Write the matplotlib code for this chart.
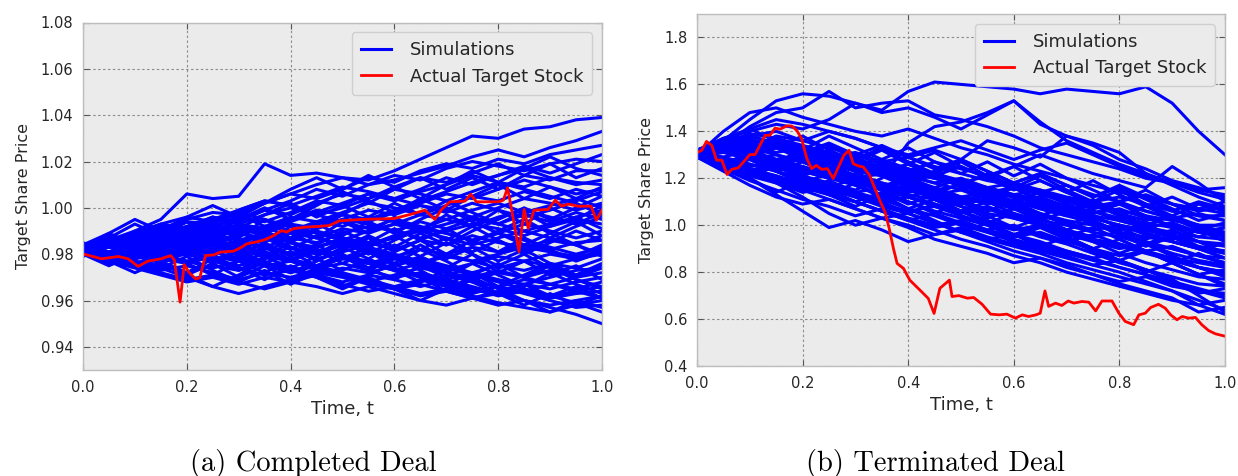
import numpy as np
import matplotlib
matplotlib.use("Agg")
import matplotlib.pyplot as plt

# ---------------- data ----------------
t_grid = [0.00, 0.05, 0.10, 0.15, 0.20, 0.25, 0.30, 0.35, 0.40, 0.45, 0.50,
          0.55, 0.60, 0.65, 0.70, 0.75, 0.80, 0.85, 0.90, 0.95, 1.00]

sims_completed = [
    [0.983, 0.984, 0.988, 0.991, 0.995, 0.998, 0.997, 1.002, 1.006, 1.010, 1.013, 1.012, 1.016, 1.021, 1.026, 1.031, 1.030, 1.034, 1.035, 1.038, 1.039],
    [0.982, 0.986, 0.990, 0.995, 1.006, 1.004, 1.005, 1.019, 1.014, 1.015, 1.013, 1.010, 1.012, 1.015, 1.018, 1.022, 1.025, 1.022, 1.026, 1.029, 1.033],
    [0.984, 0.987, 0.985, 0.990, 0.994, 0.993, 0.998, 1.002, 1.006, 1.004, 1.008, 1.013, 1.011, 1.016, 1.019, 1.017, 1.021, 1.019, 1.023, 1.025, 1.027],
    [0.981, 0.983, 0.987, 0.986, 0.991, 0.996, 0.994, 0.999, 1.003, 1.008, 1.005, 1.010, 1.014, 1.012, 1.017, 1.020, 1.018, 1.016, 1.019, 1.021, 1.020],
    [0.982, 0.985, 0.983, 0.988, 0.992, 0.990, 0.995, 0.999, 0.997, 1.002, 1.006, 1.004, 1.009, 1.013, 1.011, 1.015, 1.019, 1.014, 1.012, 1.016, 1.016],
    [0.983, 0.981, 0.985, 0.989, 0.987, 0.992, 0.996, 0.994, 0.998, 1.003, 1.001, 1.006, 1.004, 1.008, 1.013, 1.010, 1.014, 1.017, 1.013, 1.010, 1.012],
    [0.981, 0.984, 0.988, 0.986, 0.990, 0.994, 0.999, 1.003, 1.001, 0.997, 1.000, 1.004, 1.008, 1.006, 1.003, 1.007, 1.011, 1.009, 1.013, 1.011, 1.010],
    [0.982, 0.980, 0.984, 0.987, 0.985, 0.989, 0.993, 0.991, 0.995, 0.999, 0.997, 0.994, 0.998, 1.002, 1.006, 1.004, 1.008, 1.012, 1.009, 1.006, 1.008],
    [0.983, 0.986, 0.984, 0.982, 0.986, 0.990, 0.988, 0.992, 0.996, 0.994, 0.998, 1.002, 1.000, 0.997, 1.001, 1.005, 1.003, 1.007, 1.004, 1.008, 1.005],
    [0.981, 0.983, 0.981, 0.985, 0.983, 0.987, 0.991, 0.989, 0.993, 0.991, 0.995, 0.999, 0.997, 1.001, 0.999, 0.996, 1.000, 1.004, 1.002, 0.999, 1.002],
    [0.982, 0.984, 0.987, 0.985, 0.989, 0.992, 0.990, 0.986, 0.990, 0.994, 0.992, 0.996, 0.994, 0.991, 0.995, 0.999, 1.002, 0.998, 1.001, 1.004, 1.000],
    [0.983, 0.981, 0.979, 0.983, 0.986, 0.984, 0.988, 0.992, 0.990, 0.987, 0.991, 0.989, 0.993, 0.997, 0.995, 0.992, 0.996, 0.999, 0.996, 0.993, 0.998],
    [0.982, 0.985, 0.983, 0.987, 0.985, 0.982, 0.986, 0.989, 0.987, 0.991, 0.995, 0.993, 0.990, 0.994, 0.991, 0.995, 0.993, 0.997, 0.994, 0.998, 0.995],
    [0.981, 0.979, 0.982, 0.980, 0.984, 0.988, 0.986, 0.983, 0.987, 0.985, 0.989, 0.992, 0.990, 0.987, 0.990, 0.993, 0.991, 0.988, 0.992, 0.995, 0.993],
    [0.983, 0.985, 0.982, 0.979, 0.983, 0.981, 0.985, 0.988, 0.986, 0.990, 0.987, 0.984, 0.988, 0.991, 0.989, 0.986, 0.989, 0.993, 0.990, 0.987, 0.990],
    [0.982, 0.980, 0.983, 0.986, 0.984, 0.981, 0.978, 0.982, 0.985, 0.983, 0.987, 0.985, 0.982, 0.986, 0.984, 0.988, 0.985, 0.983, 0.986, 0.984, 0.988],
    [0.981, 0.983, 0.980, 0.978, 0.981, 0.984, 0.982, 0.979, 0.983, 0.980, 0.984, 0.982, 0.979, 0.976, 0.980, 0.983, 0.981, 0.984, 0.982, 0.985, 0.986],
    [0.983, 0.981, 0.978, 0.980, 0.977, 0.980, 0.983, 0.981, 0.978, 0.981, 0.979, 0.976, 0.979, 0.982, 0.980, 0.977, 0.980, 0.983, 0.981, 0.979, 0.984],
    [0.982, 0.979, 0.981, 0.978, 0.976, 0.979, 0.977, 0.980, 0.978, 0.975, 0.978, 0.981, 0.979, 0.976, 0.973, 0.976, 0.979, 0.977, 0.980, 0.978, 0.982],
    [0.981, 0.978, 0.976, 0.979, 0.977, 0.974, 0.977, 0.975, 0.972, 0.975, 0.978, 0.976, 0.973, 0.976, 0.979, 0.977, 0.974, 0.977, 0.975, 0.978, 0.980],
    [0.983, 0.980, 0.977, 0.975, 0.972, 0.975, 0.973, 0.976, 0.974, 0.971, 0.974, 0.972, 0.975, 0.978, 0.975, 0.972, 0.975, 0.973, 0.976, 0.974, 0.978],
    [0.982, 0.979, 0.976, 0.973, 0.975, 0.972, 0.969, 0.972, 0.970, 0.973, 0.971, 0.968, 0.971, 0.974, 0.972, 0.969, 0.972, 0.970, 0.973, 0.971, 0.976],
    [0.981, 0.977, 0.974, 0.971, 0.968, 0.970, 0.967, 0.970, 0.968, 0.971, 0.968, 0.971, 0.969, 0.966, 0.969, 0.972, 0.969, 0.967, 0.970, 0.973, 0.974],
    [0.983, 0.980, 0.976, 0.974, 0.970, 0.966, 0.963, 0.966, 0.969, 0.972, 0.970, 0.967, 0.965, 0.968, 0.971, 0.968, 0.966, 0.969, 0.967, 0.970, 0.972],
    [0.982, 0.978, 0.975, 0.972, 0.969, 0.971, 0.968, 0.965, 0.968, 0.966, 0.963, 0.966, 0.963, 0.960, 0.958, 0.961, 0.964, 0.967, 0.965, 0.968, 0.970],
    [0.981, 0.984, 0.981, 0.978, 0.980, 0.977, 0.979, 0.976, 0.973, 0.975, 0.972, 0.969, 0.966, 0.969, 0.966, 0.963, 0.966, 0.964, 0.967, 0.965, 0.968],
    [0.983, 0.985, 0.988, 0.986, 0.983, 0.985, 0.982, 0.979, 0.977, 0.974, 0.976, 0.973, 0.970, 0.972, 0.969, 0.966, 0.963, 0.965, 0.962, 0.964, 0.966],
    [0.982, 0.986, 0.989, 0.992, 0.990, 0.993, 0.991, 0.988, 0.985, 0.982, 0.979, 0.977, 0.974, 0.971, 0.968, 0.965, 0.962, 0.964, 0.961, 0.963, 0.964],
    [0.984, 0.987, 0.985, 0.982, 0.984, 0.981, 0.978, 0.975, 0.977, 0.974, 0.971, 0.968, 0.965, 0.967, 0.964, 0.961, 0.963, 0.960, 0.958, 0.960, 0.962],
    [0.981, 0.978, 0.980, 0.983, 0.980, 0.977, 0.974, 0.971, 0.973, 0.970, 0.967, 0.964, 0.966, 0.963, 0.965, 0.962, 0.959, 0.957, 0.955, 0.958, 0.960],
    [0.982, 0.985, 0.983, 0.987, 0.991, 0.989, 0.986, 0.983, 0.980, 0.982, 0.979, 0.976, 0.973, 0.970, 0.967, 0.964, 0.966, 0.963, 0.960, 0.957, 0.958],
    [0.983, 0.986, 0.989, 0.993, 0.996, 0.994, 0.998, 0.995, 0.992, 0.989, 0.986, 0.983, 0.980, 0.977, 0.974, 0.971, 0.968, 0.965, 0.962, 0.959, 0.955],
    [0.982, 0.979, 0.982, 0.985, 0.988, 0.986, 0.983, 0.980, 0.977, 0.974, 0.971, 0.968, 0.965, 0.962, 0.964, 0.961, 0.958, 0.960, 0.957, 0.954, 0.950],
    [0.982, 0.985, 0.989, 0.993, 0.991, 0.995, 0.999, 1.003, 1.001, 1.005, 1.009, 1.007, 1.004, 1.001, 0.998, 1.002, 0.999, 0.996, 0.999, 1.003, 1.007],
    [0.983, 0.986, 0.984, 0.988, 0.992, 0.996, 0.993, 0.997, 1.000, 0.997, 0.994, 0.991, 0.995, 0.992, 0.989, 0.986, 0.989, 0.986, 0.983, 0.980, 0.983],
    [0.981, 0.984, 0.987, 0.990, 0.988, 0.992, 0.989, 0.986, 0.989, 0.993, 0.997, 0.995, 0.999, 1.003, 1.007, 1.011, 1.014, 1.018, 1.015, 1.019, 1.023],
    [0.982, 0.979, 0.976, 0.979, 0.982, 0.980, 0.983, 0.986, 0.989, 0.987, 0.984, 0.981, 0.978, 0.975, 0.972, 0.970, 0.973, 0.970, 0.967, 0.964, 0.961],
    [0.983, 0.980, 0.983, 0.981, 0.985, 0.988, 0.992, 0.990, 0.994, 0.998, 1.002, 1.006, 1.003, 1.007, 1.010, 1.014, 1.011, 1.008, 1.005, 1.002, 0.997],
    [0.982, 0.984, 0.981, 0.984, 0.987, 0.985, 0.981, 0.984, 0.980, 0.983, 0.986, 0.990, 0.993, 0.990, 0.993, 0.996, 0.993, 0.990, 0.987, 0.984, 0.980],
    [0.981, 0.983, 0.986, 0.984, 0.981, 0.978, 0.975, 0.978, 0.981, 0.978, 0.981, 0.984, 0.987, 0.990, 0.987, 0.984, 0.987, 0.990, 0.993, 0.996, 0.999],
    [0.980, 0.985, 0.978, 0.984, 0.980, 0.986, 0.979, 0.983, 0.977, 0.982, 0.976, 0.981, 0.975, 0.979, 0.974, 0.980, 0.972, 0.977, 0.971, 0.975, 0.969],
    [0.984, 0.979, 0.986, 0.981, 0.988, 0.983, 0.990, 0.985, 0.992, 0.987, 0.994, 0.989, 0.996, 0.990, 0.997, 0.992, 0.999, 0.993, 1.000, 0.995, 1.001],
    [0.982, 0.988, 0.983, 0.991, 0.985, 0.993, 0.987, 0.995, 0.989, 0.984, 0.990, 0.985, 0.991, 0.986, 0.980, 0.986, 0.981, 0.987, 0.982, 0.977, 0.981],
    [0.985, 0.980, 0.975, 0.981, 0.976, 0.971, 0.977, 0.972, 0.978, 0.973, 0.979, 0.974, 0.969, 0.975, 0.970, 0.976, 0.971, 0.966, 0.972, 0.967, 0.963],
    [0.979, 0.984, 0.990, 0.985, 0.991, 0.996, 0.991, 0.997, 1.002, 0.996, 1.001, 0.996, 1.002, 0.997, 1.003, 0.998, 0.993, 0.998, 0.992, 0.996, 0.991],
    [0.983, 0.977, 0.982, 0.976, 0.981, 0.986, 0.980, 0.985, 0.979, 0.984, 0.978, 0.983, 0.988, 0.982, 0.987, 0.981, 0.986, 0.980, 0.985, 0.990, 0.986],
    [0.981, 0.986, 0.981, 0.976, 0.971, 0.976, 0.970, 0.975, 0.969, 0.974, 0.979, 0.973, 0.978, 0.984, 0.978, 0.983, 0.977, 0.982, 0.976, 0.971, 0.975],
    [0.982, 0.987, 0.993, 0.988, 0.994, 0.989, 0.984, 0.990, 0.985, 0.991, 0.997, 1.003, 0.998, 1.004, 0.999, 1.005, 1.010, 1.004, 1.009, 1.004, 1.009],
    [0.980, 0.975, 0.980, 0.974, 0.979, 0.973, 0.968, 0.973, 0.967, 0.972, 0.966, 0.971, 0.976, 0.970, 0.964, 0.969, 0.963, 0.967, 0.962, 0.966, 0.961],
    [0.984, 0.989, 0.984, 0.978, 0.983, 0.977, 0.982, 0.988, 0.983, 0.977, 0.982, 0.987, 0.981, 0.986, 0.991, 0.985, 0.990, 0.995, 0.989, 0.994, 0.988],
    [0.983, 0.978, 0.983, 0.989, 0.983, 0.988, 0.982, 0.976, 0.981, 0.975, 0.980, 0.974, 0.979, 0.973, 0.967, 0.972, 0.966, 0.971, 0.976, 0.970, 0.974],
    [0.981, 0.987, 0.982, 0.988, 0.994, 0.989, 0.995, 1.000, 0.995, 1.001, 1.007, 1.002, 1.008, 1.013, 1.008, 1.013, 1.008, 1.014, 1.019, 1.013, 1.017],
    [0.982, 0.977, 0.972, 0.977, 0.972, 0.978, 0.973, 0.979, 0.985, 0.980, 0.986, 0.981, 0.976, 0.982, 0.977, 0.971, 0.976, 0.970, 0.975, 0.969, 0.965],
    [0.983, 0.988, 0.983, 0.978, 0.984, 0.979, 0.985, 0.979, 0.974, 0.979, 0.985, 0.980, 0.986, 0.991, 0.986, 0.992, 0.986, 0.981, 0.987, 0.992, 0.996],
    [0.980, 0.985, 0.980, 0.986, 0.981, 0.976, 0.981, 0.987, 0.982, 0.988, 0.983, 0.978, 0.973, 0.968, 0.973, 0.968, 0.963, 0.958, 0.963, 0.958, 0.962],
    [0.984, 0.979, 0.985, 0.990, 0.985, 0.991, 0.997, 0.992, 0.987, 0.993, 0.988, 0.994, 0.989, 0.995, 1.000, 0.994, 0.989, 0.984, 0.989, 0.984, 0.979],
    [0.982, 0.987, 0.981, 0.976, 0.981, 0.987, 0.982, 0.988, 0.983, 0.978, 0.973, 0.978, 0.984, 0.979, 0.985, 0.980, 0.975, 0.980, 0.974, 0.969, 0.966],
    [0.981, 0.976, 0.981, 0.976, 0.971, 0.966, 0.971, 0.977, 0.972, 0.977, 0.983, 0.988, 0.983, 0.989, 0.984, 0.990, 0.995, 1.000, 0.995, 1.000, 1.005],
    [0.983, 0.989, 0.995, 0.990, 0.996, 1.001, 0.996, 1.002, 1.008, 1.013, 1.008, 1.014, 1.009, 1.004, 1.010, 1.016, 1.011, 1.017, 1.022, 1.017, 1.014],
    [0.982, 0.978, 0.983, 0.978, 0.984, 0.979, 0.974, 0.969, 0.975, 0.970, 0.965, 0.970, 0.965, 0.960, 0.965, 0.970, 0.965, 0.960, 0.955, 0.960, 0.957],
]

actual_completed_t = [0.0, 0.036, 0.068, 0.087, 0.106, 0.125, 0.150, 0.169, 0.176, 0.187,
                      0.195, 0.204, 0.217, 0.225, 0.236, 0.252, 0.265, 0.290, 0.303, 0.316,
                      0.332, 0.345, 0.354, 0.367, 0.383, 0.392, 0.405, 0.430, 0.456, 0.475,
                      0.494, 0.537, 0.600, 0.633, 0.659, 0.678, 0.691, 0.707, 0.736, 0.747,
                      0.758, 0.800, 0.810, 0.818, 0.826, 0.840, 0.850, 0.858, 0.869, 0.896,
                      0.910, 0.922, 0.935, 0.954, 0.979, 0.989, 1.0]
actual_completed = [0.9801, 0.978, 0.979, 0.978, 0.9747, 0.977, 0.978, 0.9794, 0.9775, 0.9593,
                    0.9755, 0.9722, 0.9693, 0.9698, 0.9794, 0.9797, 0.9809, 0.9813, 0.9827, 0.9845,
                    0.9852, 0.9859, 0.9866, 0.988, 0.9902, 0.9895, 0.991, 0.9917, 0.992, 0.9924,
                    0.9944, 0.995, 0.9954, 0.9973, 0.999, 0.995, 0.9993, 1.0026, 1.0029, 1.0059,
                    1.0026, 1.0026, 1.0033, 1.0087, 0.999, 0.9811, 0.9993, 0.9911, 0.999, 0.9993,
                    1.0033, 1.0007, 1.0016, 1.0007, 1.0007, 0.9947, 0.999]

sims_terminated = [
    [1.31, 1.36, 1.45, 1.53, 1.56, 1.55, 1.52, 1.49, 1.57, 1.61, 1.60, 1.59, 1.58, 1.56, 1.58, 1.57, 1.56, 1.59, 1.52, 1.40, 1.30],
    [1.30, 1.34, 1.42, 1.48, 1.50, 1.57, 1.50, 1.52, 1.53, 1.47, 1.45, 1.42, 1.38, 1.33, 1.30, 1.27, 1.24, 1.20, 1.18, 1.15, 1.13],
    [1.32, 1.37, 1.40, 1.43, 1.41, 1.45, 1.52, 1.48, 1.50, 1.46, 1.41, 1.47, 1.53, 1.44, 1.36, 1.31, 1.26, 1.22, 1.17, 1.12, 1.08],
    [1.30, 1.26, 1.22, 1.25, 1.21, 1.18, 1.15, 1.20, 1.35, 1.42, 1.44, 1.48, 1.53, 1.43, 1.38, 1.35, 1.31, 1.22, 1.18, 1.15, 1.16],
    [1.31, 1.35, 1.33, 1.38, 1.36, 1.40, 1.37, 1.33, 1.29, 1.32, 1.28, 1.36, 1.33, 1.29, 1.38, 1.34, 1.28, 1.24, 1.19, 1.16, 1.12],
    [1.29, 1.33, 1.36, 1.34, 1.31, 1.28, 1.30, 1.26, 1.23, 1.27, 1.24, 1.21, 1.25, 1.30, 1.26, 1.22, 1.19, 1.16, 1.25, 1.18, 1.10],
    [1.30, 1.33, 1.30, 1.33, 1.29, 1.25, 1.27, 1.23, 1.26, 1.22, 1.18, 1.21, 1.17, 1.14, 1.17, 1.13, 1.10, 1.13, 1.09, 1.06, 1.08],
    [1.31, 1.29, 1.32, 1.28, 1.30, 1.26, 1.23, 1.25, 1.21, 1.18, 1.20, 1.16, 1.13, 1.15, 1.11, 1.08, 1.10, 1.06, 1.03, 1.05, 1.02],
    [1.30, 1.32, 1.29, 1.26, 1.28, 1.24, 1.20, 1.22, 1.18, 1.15, 1.17, 1.13, 1.10, 1.12, 1.08, 1.05, 1.07, 1.03, 1.00, 0.97, 0.99],
    [1.29, 1.31, 1.28, 1.30, 1.27, 1.23, 1.20, 1.17, 1.19, 1.15, 1.12, 1.14, 1.10, 1.07, 1.04, 1.06, 1.02, 0.99, 1.01, 0.97, 0.95],
    [1.30, 1.27, 1.29, 1.25, 1.22, 1.24, 1.20, 1.17, 1.14, 1.16, 1.12, 1.09, 1.11, 1.07, 1.04, 1.01, 0.98, 1.00, 0.96, 0.93, 0.92],
    [1.31, 1.28, 1.25, 1.27, 1.23, 1.20, 1.22, 1.18, 1.15, 1.12, 1.09, 1.11, 1.07, 1.04, 1.01, 0.98, 1.00, 0.96, 0.93, 0.90, 0.89],
    [1.30, 1.26, 1.23, 1.19, 1.21, 1.17, 1.14, 1.16, 1.12, 1.09, 1.06, 1.08, 1.04, 1.01, 0.98, 0.95, 0.97, 0.93, 0.90, 0.87, 0.86],
    [1.29, 1.25, 1.21, 1.18, 1.14, 1.16, 1.12, 1.09, 1.06, 1.08, 1.04, 1.01, 0.98, 1.00, 0.96, 0.93, 0.90, 0.92, 0.88, 0.85, 0.83],
    [1.30, 1.24, 1.19, 1.15, 1.11, 1.08, 1.04, 1.07, 1.03, 1.00, 1.02, 0.98, 0.95, 0.97, 0.93, 0.90, 0.87, 0.89, 0.85, 0.82, 0.80],
    [1.31, 1.27, 1.22, 1.18, 1.12, 1.05, 1.00, 1.03, 1.05, 1.01, 0.97, 0.94, 0.96, 0.92, 0.89, 0.86, 0.88, 0.84, 0.81, 0.78, 0.77],
    [1.30, 1.25, 1.20, 1.13, 1.06, 0.99, 1.02, 0.98, 0.93, 0.96, 0.99, 0.95, 0.92, 0.89, 0.86, 0.83, 0.85, 0.81, 0.78, 0.75, 0.74],
    [1.29, 1.23, 1.17, 1.12, 1.09, 1.11, 1.07, 1.03, 0.99, 0.94, 0.91, 0.88, 0.84, 0.86, 0.82, 0.79, 0.76, 0.78, 0.74, 0.72, 0.71],
    [1.30, 1.26, 1.23, 1.20, 1.16, 1.13, 1.10, 1.06, 1.02, 0.98, 0.94, 0.91, 0.87, 0.84, 0.80, 0.77, 0.74, 0.71, 0.68, 0.66, 0.68],
    [1.31, 1.28, 1.24, 1.21, 1.18, 1.15, 1.12, 1.08, 1.05, 1.01, 0.97, 0.93, 0.89, 0.86, 0.83, 0.79, 0.75, 0.72, 0.69, 0.63, 0.65],
    [1.30, 1.29, 1.26, 1.23, 1.20, 1.17, 1.14, 1.11, 1.07, 1.04, 1.00, 0.97, 0.93, 0.90, 0.87, 0.83, 0.80, 0.76, 0.72, 0.66, 0.62],
    [1.32, 1.34, 1.31, 1.28, 1.25, 1.22, 1.19, 1.15, 1.12, 1.09, 1.06, 1.02, 0.99, 0.95, 0.92, 0.88, 0.84, 0.81, 0.77, 0.70, 0.63],
    [1.30, 1.33, 1.30, 1.27, 1.25, 1.21, 1.18, 1.16, 1.13, 1.11, 1.08, 1.05, 1.03, 1.00, 0.97, 0.94, 0.91, 0.88, 0.85, 0.82, 0.79],
    [1.31, 1.36, 1.33, 1.30, 1.27, 1.24, 1.20, 1.18, 1.15, 1.13, 1.10, 1.07, 1.05, 1.02, 1.00, 0.97, 0.95, 0.92, 0.90, 0.87, 0.84],
    [1.30, 1.34, 1.37, 1.33, 1.30, 1.27, 1.23, 1.21, 1.18, 1.16, 1.12, 1.10, 1.07, 1.05, 1.02, 1.00, 0.97, 0.95, 0.93, 0.90, 0.88],
    [1.29, 1.33, 1.38, 1.35, 1.32, 1.29, 1.26, 1.23, 1.21, 1.18, 1.15, 1.13, 1.10, 1.08, 1.05, 1.03, 1.00, 0.98, 0.95, 0.93, 0.91],
    [1.31, 1.35, 1.39, 1.37, 1.34, 1.31, 1.28, 1.25, 1.22, 1.20, 1.17, 1.14, 1.12, 1.09, 1.07, 1.04, 1.02, 0.99, 0.97, 0.95, 0.94],
    [1.30, 1.34, 1.38, 1.40, 1.36, 1.33, 1.30, 1.27, 1.24, 1.21, 1.18, 1.16, 1.13, 1.11, 1.08, 1.06, 1.03, 1.01, 0.99, 0.97, 0.97],
    [1.32, 1.36, 1.34, 1.31, 1.33, 1.29, 1.31, 1.27, 1.29, 1.25, 1.22, 1.19, 1.17, 1.14, 1.11, 1.09, 1.06, 1.04, 1.02, 1.00, 1.00],
    [1.30, 1.32, 1.35, 1.33, 1.30, 1.28, 1.25, 1.22, 1.19, 1.22, 1.19, 1.16, 1.18, 1.15, 1.12, 1.10, 1.12, 1.09, 1.06, 1.04, 1.04],
    [1.31, 1.28, 1.26, 1.23, 1.19, 1.16, 1.13, 1.10, 1.12, 1.08, 1.05, 1.07, 1.03, 1.00, 0.97, 0.94, 0.92, 0.89, 0.86, 0.84, 0.82],
    [1.30, 1.27, 1.24, 1.21, 1.17, 1.14, 1.10, 1.06, 1.03, 0.99, 1.01, 0.97, 0.94, 0.91, 0.88, 0.85, 0.82, 0.79, 0.76, 0.73, 0.70],
    [1.29, 1.26, 1.22, 1.19, 1.15, 1.11, 1.07, 1.03, 1.00, 0.96, 0.98, 0.94, 0.91, 0.88, 0.84, 0.81, 0.78, 0.75, 0.72, 0.68, 0.64],
    [1.31, 1.35, 1.33, 1.36, 1.33, 1.30, 1.26, 1.28, 1.24, 1.21, 1.18, 1.15, 1.12, 1.09, 1.06, 1.03, 1.00, 0.97, 0.93, 0.90, 0.86],
    [1.30, 1.32, 1.29, 1.26, 1.23, 1.20, 1.17, 1.13, 1.10, 1.06, 1.03, 1.00, 0.96, 0.93, 0.89, 0.86, 0.82, 0.79, 0.75, 0.71, 0.73],
    [1.30, 1.40, 1.48, 1.50, 1.46, 1.43, 1.40, 1.38, 1.41, 1.37, 1.33, 1.30, 1.26, 1.23, 1.20, 1.17, 1.14, 1.12, 1.09, 1.07, 1.05],
    [1.31, 1.37, 1.41, 1.45, 1.43, 1.40, 1.37, 1.33, 1.30, 1.33, 1.36, 1.32, 1.28, 1.32, 1.35, 1.30, 1.25, 1.21, 1.18, 1.14, 1.11],
    [1.30, 1.28, 1.25, 1.27, 1.24, 1.21, 1.18, 1.15, 1.17, 1.13, 1.15, 1.11, 1.08, 1.10, 1.06, 1.09, 1.05, 1.02, 1.04, 1.00, 0.97],
    [1.29, 1.26, 1.23, 1.20, 1.17, 1.13, 1.10, 1.06, 1.02, 1.05, 1.01, 0.98, 1.00, 0.96, 0.93, 0.96, 0.92, 0.89, 0.91, 0.87, 0.84],
    [1.30, 1.33, 1.31, 1.28, 1.30, 1.27, 1.24, 1.26, 1.23, 1.20, 1.17, 1.14, 1.16, 1.13, 1.10, 1.07, 1.09, 1.06, 1.03, 1.00, 0.96],
    [1.30, 1.35, 1.29, 1.34, 1.28, 1.23, 1.28, 1.22, 1.17, 1.22, 1.16, 1.11, 1.16, 1.10, 1.05, 1.10, 1.04, 0.99, 0.94, 0.98, 0.93],
    [1.31, 1.26, 1.31, 1.25, 1.30, 1.24, 1.19, 1.24, 1.18, 1.13, 1.18, 1.12, 1.07, 1.12, 1.06, 1.01, 0.96, 1.00, 0.95, 0.90, 0.86],
    [1.29, 1.34, 1.39, 1.33, 1.38, 1.32, 1.27, 1.32, 1.26, 1.31, 1.25, 1.20, 1.25, 1.19, 1.14, 1.19, 1.13, 1.08, 1.12, 1.07, 1.10],
    [1.32, 1.27, 1.22, 1.27, 1.21, 1.16, 1.20, 1.15, 1.10, 1.05, 1.10, 1.04, 0.99, 1.03, 0.98, 0.93, 0.88, 0.92, 0.87, 0.82, 0.78],
    [1.30, 1.36, 1.31, 1.37, 1.32, 1.38, 1.33, 1.28, 1.33, 1.27, 1.22, 1.27, 1.21, 1.26, 1.20, 1.15, 1.10, 1.15, 1.09, 1.04, 1.02],
    [1.31, 1.25, 1.20, 1.14, 1.19, 1.13, 1.08, 1.13, 1.07, 1.02, 0.97, 1.01, 0.96, 0.91, 0.95, 0.90, 0.85, 0.80, 0.84, 0.79, 0.75],
    [1.30, 1.35, 1.30, 1.24, 1.29, 1.24, 1.29, 1.23, 1.18, 1.23, 1.17, 1.22, 1.16, 1.11, 1.06, 1.11, 1.05, 1.00, 1.04, 0.99, 0.95],
    [1.29, 1.24, 1.29, 1.23, 1.18, 1.13, 1.18, 1.12, 1.16, 1.11, 1.06, 1.01, 1.05, 1.00, 0.95, 0.99, 0.94, 0.89, 0.84, 0.88, 0.83],
    [1.31, 1.37, 1.32, 1.27, 1.32, 1.26, 1.21, 1.16, 1.21, 1.15, 1.10, 1.14, 1.09, 1.04, 1.08, 1.02, 0.97, 0.92, 0.87, 0.82, 0.80],
    [1.30, 1.25, 1.30, 1.35, 1.29, 1.34, 1.28, 1.33, 1.27, 1.22, 1.27, 1.21, 1.16, 1.21, 1.15, 1.10, 1.15, 1.09, 1.04, 1.09, 1.06],
    [1.32, 1.36, 1.31, 1.26, 1.21, 1.25, 1.20, 1.15, 1.19, 1.14, 1.09, 1.13, 1.08, 1.03, 0.98, 1.02, 0.97, 0.92, 0.96, 0.91, 0.89],
    [1.29, 1.33, 1.28, 1.23, 1.27, 1.22, 1.26, 1.21, 1.16, 1.11, 1.06, 1.10, 1.05, 1.00, 0.95, 0.90, 0.94, 0.89, 0.84, 0.79, 0.74],
    [1.30, 1.26, 1.21, 1.25, 1.20, 1.15, 1.10, 1.14, 1.09, 1.13, 1.08, 1.03, 1.07, 1.02, 1.06, 1.01, 0.96, 0.91, 0.95, 0.90, 0.92],
    [1.31, 1.36, 1.41, 1.36, 1.31, 1.35, 1.30, 1.34, 1.29, 1.24, 1.28, 1.23, 1.18, 1.22, 1.17, 1.12, 1.16, 1.11, 1.06, 1.10, 1.07],
    [1.30, 1.24, 1.28, 1.23, 1.18, 1.22, 1.17, 1.12, 1.07, 1.11, 1.06, 1.01, 0.96, 1.00, 0.95, 0.90, 0.85, 0.89, 0.84, 0.79, 0.81],
    [1.29, 1.34, 1.29, 1.33, 1.28, 1.32, 1.27, 1.22, 1.26, 1.21, 1.25, 1.20, 1.15, 1.19, 1.14, 1.09, 1.04, 1.08, 1.03, 0.98, 1.01],
    [1.31, 1.27, 1.23, 1.27, 1.22, 1.26, 1.21, 1.17, 1.12, 1.16, 1.11, 1.06, 1.10, 1.05, 1.00, 1.04, 0.99, 0.94, 0.98, 0.93, 0.88],
    [1.30, 1.34, 1.30, 1.26, 1.30, 1.25, 1.21, 1.25, 1.20, 1.16, 1.20, 1.15, 1.10, 1.14, 1.09, 1.05, 1.09, 1.04, 0.99, 0.95, 0.99],
    [1.32, 1.28, 1.24, 1.19, 1.15, 1.19, 1.14, 1.10, 1.05, 1.09, 1.04, 1.00, 0.95, 0.99, 0.94, 0.89, 0.85, 0.81, 0.76, 0.72, 0.69],
    [1.30, 1.35, 1.30, 1.25, 1.29, 1.34, 1.29, 1.24, 1.19, 1.23, 1.28, 1.23, 1.18, 1.22, 1.17, 1.12, 1.17, 1.12, 1.07, 1.02, 1.05],
]

actual_terminated_t = [0.0, 0.009, 0.018, 0.028, 0.037, 0.047, 0.057, 0.066, 0.078, 0.091,
                       0.100, 0.110, 0.119, 0.129, 0.138, 0.148, 0.157, 0.170, 0.179, 0.189,
                       0.198, 0.208, 0.217, 0.226, 0.236, 0.247, 0.258, 0.268, 0.278, 0.288,
                       0.296, 0.305, 0.315, 0.327, 0.337, 0.346, 0.356, 0.364, 0.372, 0.379,
                       0.391, 0.403, 0.422, 0.438, 0.449, 0.460, 0.478, 0.483, 0.496, 0.512,
                       0.524, 0.540, 0.556, 0.572, 0.587, 0.603, 0.616, 0.628, 0.642, 0.650,
                       0.659, 0.666, 0.679, 0.691, 0.703, 0.714, 0.729, 0.742, 0.755, 0.767,
                       0.786, 0.799, 0.811, 0.827, 0.837, 0.849, 0.859, 0.874, 0.887, 0.897,
                       0.909, 0.919, 0.931, 0.944, 0.956, 0.969, 0.982, 1.0]
actual_terminated = [1.309, 1.319, 1.357, 1.340, 1.277, 1.277, 1.216, 1.238, 1.244, 1.277,
                     1.301, 1.301, 1.340, 1.383, 1.383, 1.414, 1.409, 1.423, 1.423, 1.404,
                     1.369, 1.284, 1.241, 1.255, 1.238, 1.241, 1.199, 1.248, 1.298, 1.319,
                     1.262, 1.253, 1.248, 1.213, 1.156, 1.106, 1.057, 0.986, 0.901, 0.837,
                     0.816, 0.766, 0.724, 0.688, 0.624, 0.731, 0.766, 0.696, 0.700, 0.689,
                     0.692, 0.663, 0.621, 0.618, 0.621, 0.604, 0.618, 0.611, 0.618, 0.625,
                     0.720, 0.654, 0.668, 0.658, 0.677, 0.668, 0.675, 0.672, 0.635, 0.677,
                     0.677, 0.625, 0.590, 0.576, 0.618, 0.625, 0.649, 0.663, 0.646, 0.618,
                     0.597, 0.611, 0.604, 0.607, 0.576, 0.551, 0.537, 0.527]

x_ticks = [0.0, 0.2, 0.4, 0.6, 0.8, 1.0]
y_ticks_completed = [0.94, 0.96, 0.98, 1.00, 1.02, 1.04, 1.06, 1.08]
y_ticks_terminated = [0.4, 0.6, 0.8, 1.0, 1.2, 1.4, 1.6, 1.8]
captions = ["(a) Completed Deal", "(b) Terminated Deal"]
legend_labels = ["Simulations", "Actual Target Stock"]

# ---------------- drawing ----------------
W, H = 1238, 476
fig = plt.figure(figsize=(W / 100, H / 100), dpi=100)
fig.patch.set_facecolor("white")

BG = "#ebebeb"


def style_axes(ax, yticks, ylim, yfmt):
    ax.set_facecolor(BG)
    ax.set_axisbelow(True)
    ax.grid(True, color="#8c8c8c", linestyle=(0, (2.2, 2.2)), linewidth=0.8)
    for s in ax.spines.values():
        s.set_color("#bdbdbd")
        s.set_linewidth(1.0)
    ax.set_xlim(0, 1)
    ax.set_ylim(*ylim)
    ax.set_xticks(x_ticks)
    ax.set_xticklabels([f"{v:.1f}" for v in x_ticks])
    ax.set_yticks(yticks)
    ax.set_yticklabels([yfmt.format(v) for v in yticks])
    ax.tick_params(direction="in", length=4, width=0.8, color="#555555",
                   labelsize=10.5, labelcolor="#262626", top=True, right=True, pad=7)
    ax.set_xlabel("Time, t", fontsize=13, color="#262626", labelpad=4)
    ax.set_ylabel("Target Share Price", fontsize=11.5, color="#262626", labelpad=7)


def draw_panel(ax, sims, t_act, v_act):
    first = None
    for path in sims:
        ln, = ax.plot(t_grid, path, color="#0000ff", linewidth=2.2)
        if first is None:
            first = ln
    red, = ax.plot(t_act, v_act, color="#ff0000", linewidth=2.0)
    leg = ax.legend([first, red], legend_labels, loc="upper right", fontsize=13,
                    handlelength=1.7, handletextpad=1.0, borderaxespad=0.55,
                    borderpad=0.5, labelspacing=0.45, fancybox=True, framealpha=1.0)
    leg.get_frame().set_facecolor(BG)
    leg.get_frame().set_edgecolor("#cfcfcf")
    for txt in leg.get_texts():
        txt.set_color("#262626")


ax1 = fig.add_axes([83 / W, (H - 370) / H, (602 - 83) / W, (370 - 22.5) / H])
style_axes(ax1, y_ticks_completed, (0.93, 1.08), "{:.2f}")
draw_panel(ax1, sims_completed, actual_completed_t, actual_completed)

ax2 = fig.add_axes([697 / W, (H - 366) / H, (1225 - 697) / W, (366 - 14) / H])
style_axes(ax2, y_ticks_terminated, (0.4, 1.9), "{:.1f}")
draw_panel(ax2, sims_terminated, actual_terminated_t, actual_terminated)

fig.text(313 / W, 1 - 463 / H, captions[0], ha="center", va="center",
         family="cmr10", fontsize=20.5)
fig.text(936 / W, 1 - 463 / H, captions[1], ha="center", va="center",
         family="cmr10", fontsize=20.5)

fig.savefig("out.png", dpi=100)
